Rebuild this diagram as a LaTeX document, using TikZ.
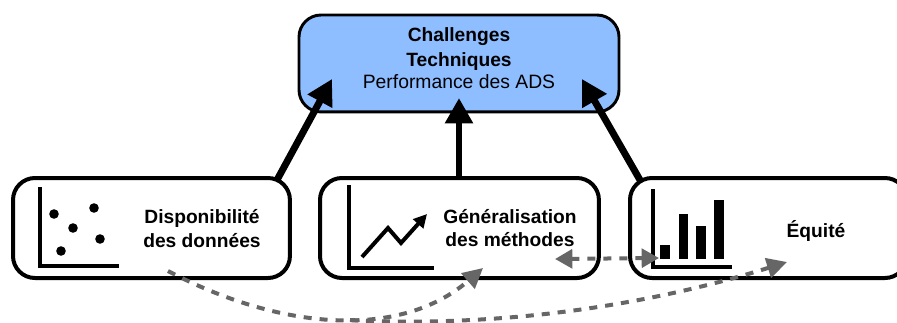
\documentclass[tikz,border=0pt]{standalone}
\usepackage{fontspec}
\setmainfont{Liberation Sans}
\usetikzlibrary{arrows.meta,positioning}
\definecolor{topblue}{HTML}{8EBEFF}
\definecolor{dashgrey}{HTML}{666666}
\tikzset{
  x=0.75pt,y=-0.75pt,
  box/.style={draw=black,line width=3pt,rounded corners=16.5pt,fill=white,inner sep=0pt,outer sep=0pt,anchor=north west},
  topbox/.style={box,fill=topblue,line width=2.2pt},
  label/.style={font=\fontsize{14.5pt}{16pt}\selectfont,anchor=base,inner sep=0pt},
  blabel/.style={label,font=\fontsize{14.4pt}{16pt}\selectfont\bfseries},
  bigarrow/.style={line width=5.2pt,-{Triangle[length=19pt,width=20pt]}},
  dasharrow/.style={draw=dashgrey,line width=3pt,dash pattern=on 6pt off 6pt,-{Triangle[length=15pt,width=15pt]}},
  dbl/.style={draw=dashgrey,line width=3pt,dash pattern=on 6pt off 6pt,{Triangle[length=13pt,width=14pt]}-{Triangle[length=13pt,width=14pt]}},
  axis/.style={line width=2.3pt},
  bar/.style={fill=black},
  dot/.style={circle,fill=black,inner sep=0pt,minimum size=7.2pt},
}
\begin{document}
\begin{tikzpicture}
\useasboundingbox (0,0) rectangle (897,322);
\clip (0,0) rectangle (897,322);
\node[topbox,minimum width=240pt,minimum height=72.7pt] (top) at (299,15) {};
\node[box,minimum width=207.7pt,minimum height=75pt] (left) at (13,178) {};
\node[box,minimum width=209.2pt,minimum height=75pt] (mid) at (320,178) {};
\node[box,minimum width=207.7pt,minimum height=75pt] (right) at (630,178) {};

\node[blabel] (t1) at (459,41) {Challenges};
\node[blabel] (t2) at (459,66) {Techniques};
\node[label] (t3) at (459,88) {Performance des ADS};
\node[blabel] (l1) at (202,223) {Disponibilité};
\node[blabel] (l2) at (202,247) {des données};
\node[blabel] (m1) at (510,223) {Généralisation};
\node[blabel] (m2) at (510,246) {des méthodes};
\node[blabel] (r1) at (816,237) {Équité};

\draw[axis] (40,187) -- (40,266) -- (119,266);
\node[dot] (d1) at (54,214) {};
\node[dot] (d2) at (94,208) {};
\node[dot] (d3) at (73,228) {};
\node[dot] (d4) at (100,239) {};
\node[dot] (d5) at (61,251) {};

\draw[axis] (349,185) -- (349,268) -- (434,268);
\draw[line width=3pt,-{Triangle[length=10pt,width=10pt]}] (362,257) -- (388,228) -- (401,243) -- (427,214);

\draw[axis] (653,189) -- (653,267) -- (732,267);
\fill[bar] (660,245) rectangle (670,259);
\fill[bar] (679,214) rectangle (688,259);
\fill[bar] (696,226) rectangle (706,259);
\fill[bar] (714,200) rectangle (724,259);

\coordinate (a1s) at (277,180);
\coordinate (a1e) at (332,79);
\coordinate (a2s) at (459,178);
\coordinate (a2e) at (459,98);
\coordinate (a3s) at (640,180);
\coordinate (a3e) at (582,79);
\draw[bigarrow] (a1s) -- (a1e);
\draw[bigarrow] (a2s) -- (a2e);
\draw[bigarrow] (a3s) -- (a3e);

\coordinate (ds) at (168,271);
\coordinate (d1e) at (483,268);
\coordinate (d2s) at (350,320);
\coordinate (d2e) at (787,262);
\coordinate (d3s) at (555,259);
\coordinate (d3e) at (659,258);
\draw[dasharrow] (ds) .. controls (280,330) and (400,340) .. (d1e);
\draw[dasharrow] (d2s) .. controls (500,328) and (650,305) .. (d2e);
\draw[dbl] (d3s) -- (d3e);
\end{tikzpicture}
\end{document}
